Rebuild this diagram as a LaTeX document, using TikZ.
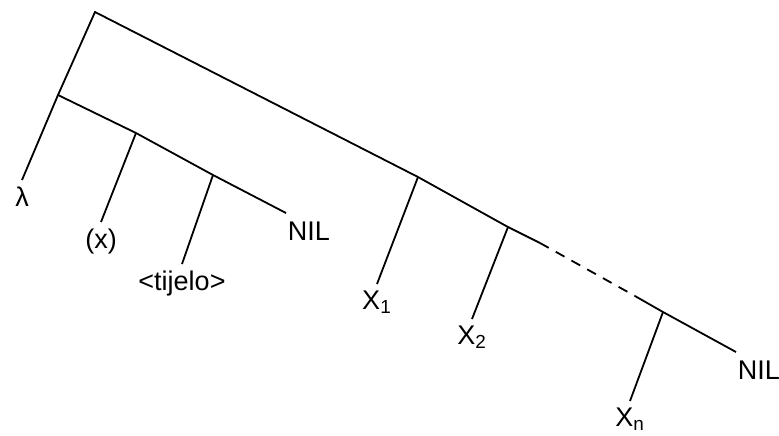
\documentclass[tikz,border=0pt]{standalone}
\usepackage{fontspec}
\setmainfont{Liberation Sans}
\begin{document}
\begin{tikzpicture}[x=0.5pt, y=-0.5pt, line width=0.9pt,
    lbl/.style={inner sep=3pt, anchor=north, font=\fontsize{13.5}{16}\selectfont},
    nil/.style={lbl, inner xsep=0.5pt, inner ysep=4pt, anchor=north west}]
  \useasboundingbox (0,0) rectangle (779,435);

  % Junctions of the outer list
  \coordinate (top) at (95,12);
  \coordinate (j1) at (418,177);
  \coordinate (j2) at (508,227);
  \coordinate (d1) at (540,243);
  \coordinate (d2) at (635,296);
  \coordinate (jn) at (663,312);

  % Junctions of the inner list
  \coordinate (inner) at (58,95);
  \coordinate (i1) at (136,133);
  \coordinate (i2) at (213,175);

  % Leaves
  \node [lbl] (lam) at (22,180) {λ};
  \node [lbl] (arg) at (101,222) {(x)};
  \node [lbl] (body) at (182,264) {<tijelo>};
  \node [nil] (nil1) at (286,213) {NIL};
  \node [lbl] (x1) at (377,284) {X\textsubscript{1}};
  \node [lbl] (x2) at (472,319) {X\textsubscript{2}};
  \node [lbl] (xn) at (630,401) {X\textsubscript{n}};
  \node [nil] (nil2) at (736,352) {NIL};

  % Outer list
  \draw (lam.north) -- (inner) -- (top) -- (j1) -- (j2) -- (d1);
  \draw [dash pattern=on 5pt off 4pt] (d1) -- (d2);
  \draw (d2) -- (jn) -- (nil2.north west);

  % Inner list
  \draw (inner) -- (i1) -- (i2) -- (nil1.north west);

  % Branches
  \foreach \j/\n in {i1/arg, i2/body, j1/x1, j2/x2, jn/xn} {
    \draw (\j) -- (\n.north);
  }

\end{tikzpicture}
\end{document}
